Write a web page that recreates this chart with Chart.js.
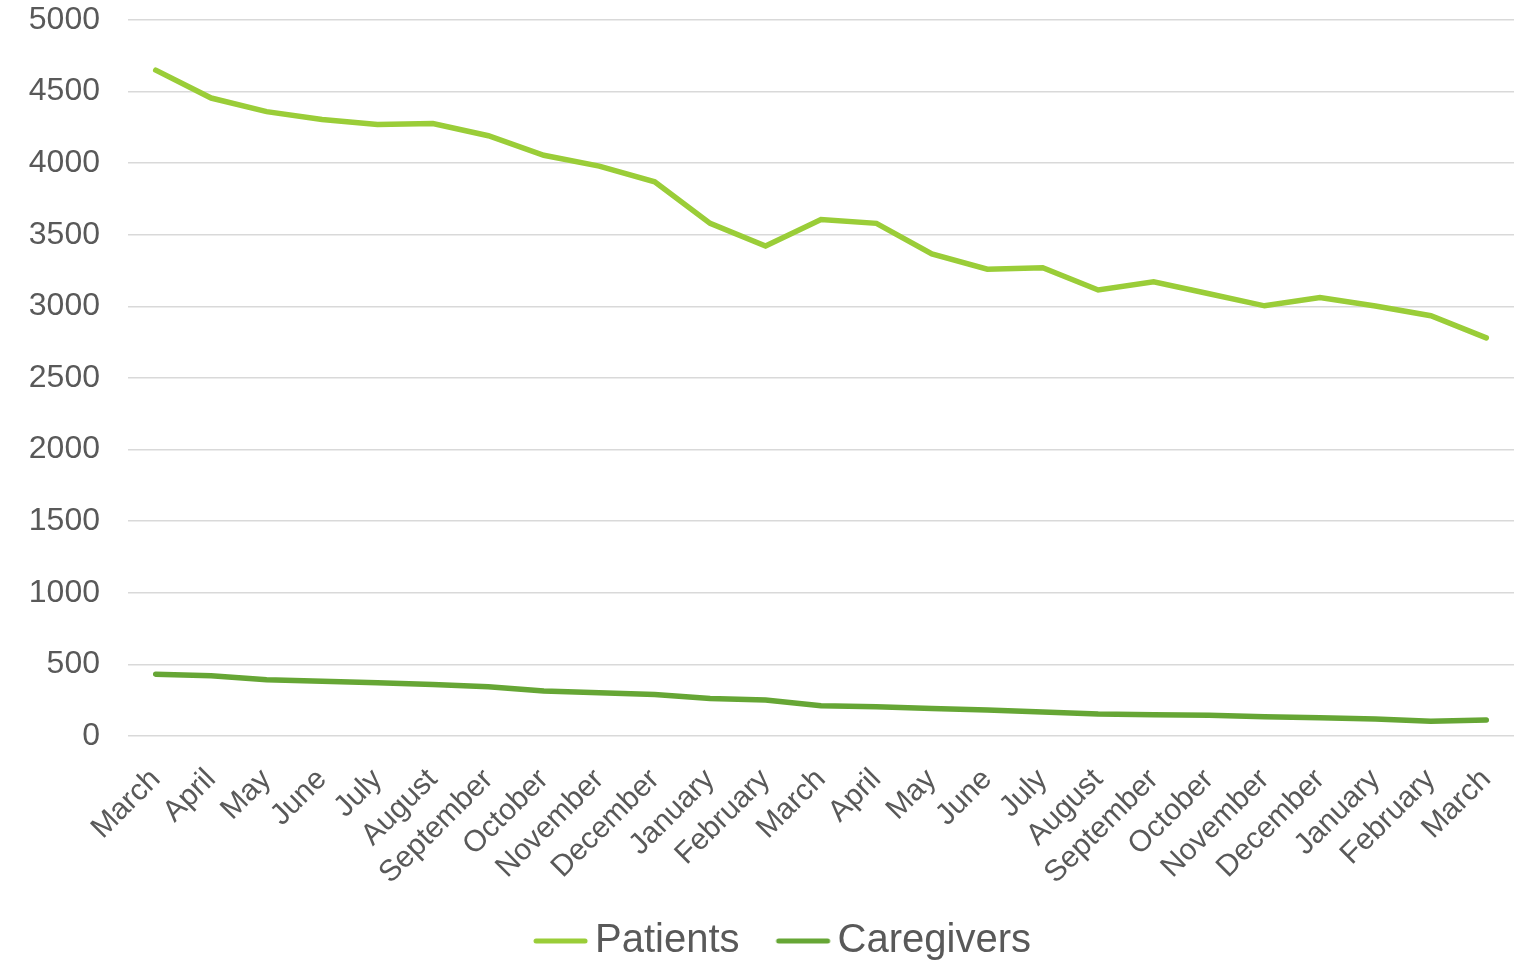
<!DOCTYPE html>
<html>
<head>
<meta charset="utf-8">
<script src="https://cdn.jsdelivr.net/npm/chart.js@4"></script>
<style>
  html, body { margin: 0; padding: 0; background: #fff; }
  #wrap { width: 1524px; height: 966px; }
</style>
</head>
<body>
<div id="wrap"><canvas id="chart_patients"></canvas></div>
<script>
const months = ['March', 'April', 'May', 'June', 'July', 'August', 'September', 'October',
    'November', 'December', 'January', 'February', 'March', 'April', 'May', 'June', 'July',
    'August', 'September', 'October', 'November', 'December', 'January', 'February', 'March'];

const patients = [4650, 4455, 4360, 4305, 4270, 4277, 4192, 4055, 3980, 3870, 3580, 3422, 3606,
    3580, 3366, 3260, 3270, 3115, 3172, 3088, 3004, 3062, 3003, 2935, 2780];

const caregivers = [432, 420, 393, 383, 371, 360, 344, 314, 302, 290, 262, 251, 212,
    204, 192, 181, 167, 153, 149, 145, 135, 128, 118, 103, 112];

const patientsColor = '#9acd38';
const caregiversColor = '#66a635';
const textColor = '#595959';
const fontFamily = '"Liberation Sans", Arial, sans-serif';

// legend sample: a short line that sits right next to its text
// (chart.js puts fontSize/2 between box and text, so the image is shifted right)
const legendSample = (color) => {
    const c = document.createElement('canvas');
    c.width = 90;
    c.height = 8;
    const ctx = c.getContext('2d');
    ctx.strokeStyle = color;
    ctx.lineWidth = 5;
    ctx.lineCap = 'round';
    ctx.beginPath();
    ctx.moveTo(22, 4);
    ctx.lineTo(71, 4);
    ctx.stroke();
    return c;
};

// the legend in the original sits a bit right of centre and a bit higher
const legendNudge = {
    id: 'legendNudge',
    afterLayout(chart) {
        const lg = chart.legend;
        lg.left += 30;
        lg.right += 30;
        lg.top -= 11;
        lg.bottom -= 11;
    },
};

const options = {
    responsive: true,
    maintainAspectRatio: false,
    animation: false,
    layout: {
        padding: { left: 0, right: 10, top: 0, bottom: -16 },
    },
    plugins: {
        legend: {
            position: 'bottom',
            labels: {
                usePointStyle: true,
                pointStyleWidth: 32,
                color: textColor,
                padding: 46,
                font: { family: fontFamily, size: 40 },
            },
        },
        tooltip: { enabled: false },
    },
    scales: {
        y: {
            min: 0,
            max: 5000,
            border: { display: false },
            grid: { color: '#d9d9d9', lineWidth: 1.5, drawTicks: false },
            ticks: {
                stepSize: 500,
                padding: 28,
                color: textColor,
                font: { family: fontFamily, size: 32 },
                callback: (value) => String(value),
            },
            afterFit: (scale) => {
                scale.width = 128;
                scale.paddingTop = 20;
                scale.paddingBottom = 0;
            },
        },
        x: {
            offset: true,
            border: { display: false },
            grid: { display: false },
            ticks: {
                autoSkip: false,
                maxRotation: 45,
                minRotation: 45,
                padding: 18,
                color: textColor,
                font: { family: fontFamily, size: 30 },
            },
            afterFit: (scale) => {
                scale.height = 150;
                scale.paddingRight = 0;
            },
        },
    },
};

const data = {
    labels: months,
    datasets: [
        {
            label: 'Patients',
            data: patients,
            borderColor: patientsColor,
            backgroundColor: patientsColor,
            pointStyle: legendSample(patientsColor),
            borderWidth: 5.5,
            borderCapStyle: 'round',
            pointRadius: 0,
            tension: 0,
        },
        {
            label: 'Caregivers',
            data: caregivers,
            borderColor: caregiversColor,
            backgroundColor: caregiversColor,
            pointStyle: legendSample(caregiversColor),
            borderWidth: 5.5,
            borderCapStyle: 'round',
            pointRadius: 0,
            tension: 0,
        },
    ],
};

const chart = new Chart(document.getElementById('chart_patients'), {
    type: 'line',
    data: data,
    options: options,
    plugins: [legendNudge],
});
</script>
</body>
</html>
